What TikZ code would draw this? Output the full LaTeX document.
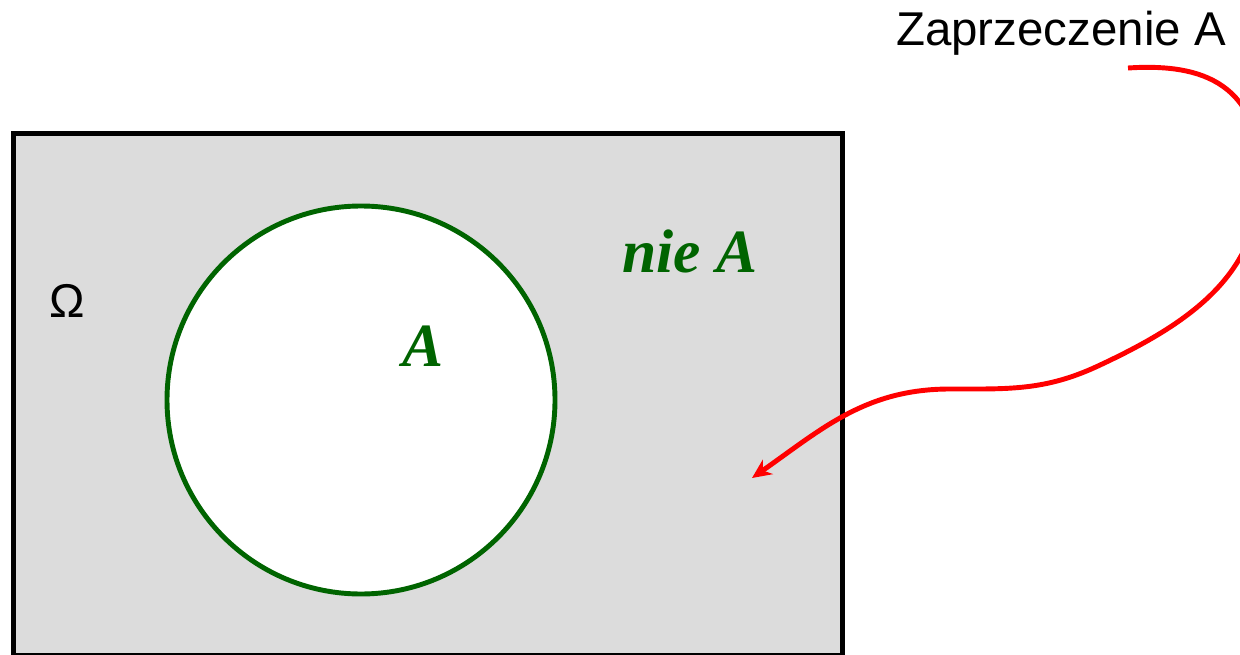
\documentclass[tikz,border=0pt]{standalone}
\usepackage{fontspec}
\setmainfont{Liberation Serif}
\setsansfont{Liberation Sans}
\usetikzlibrary{arrows.meta}
\definecolor{setA}{RGB}{0,100,0}
\definecolor{omegaFill}{RGB}{220,220,220}
\definecolor{negArrow}{RGB}{255,0,0}

\begin{document}
\begin{tikzpicture}[x=0.02cm,y=-0.02cm,
  sflabel/.style={font=\sffamily\fontsize{27}{30}\selectfont,inner sep=0pt},
  setname/.style={font=\bfseries\itshape\fontsize{35}{40}\selectfont,text=setA,inner sep=0pt}]
  \useasboundingbox (0,0) rectangle (1240,655);
  % sample space Omega (bottom edge runs off the page)
  \draw[fill=omegaFill,line width=2.9pt] (13.5,133.5) rectangle (842.5,656);
  % event A
  \draw[setA,fill=white,line width=2.8pt] (361,400) circle (194);
  % labels
  \node[sflabel,anchor=base] (omega) at (67,317) {Ω};
  \node[setname,anchor=base] (nameA) at (423,366) {A};
  \node[setname,anchor=base] (nameNotA) at (690,272) {nie A};
  \node[sflabel,anchor=base] (negLabel) at (1061,46) {Zaprzeczenie A};
  % arrow from the label into the complement
  \coordinate (arrowStart) at (1128,68);
  \coordinate (arrowTip) at (752,478);
  \draw[negArrow,line width=2.8pt,-{Stealth[length=11pt,width=10pt]}]
    (arrowStart) .. controls (1190,64) and (1262,75) .. (1260,180)
    to[out=-90,in=25] (1098,366)
    to[out=205,in=0] (950,389) to[out=180,in=35] (arrowTip);
\end{tikzpicture}
\end{document}
